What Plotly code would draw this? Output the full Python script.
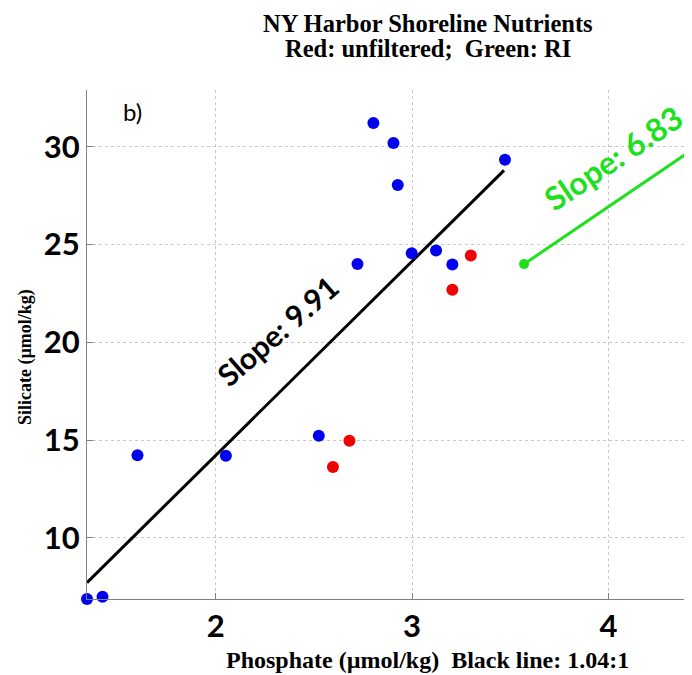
import plotly.graph_objects as go

# Data
blue_x = [1.345, 1.424, 1.602, 2.052, 2.525, 2.722, 2.803, 2.905, 2.927, 2.998, 3.122, 3.205, 3.473]
blue_y = [6.88, 7.00, 14.23, 14.20, 15.22, 24.01, 31.21, 30.19, 28.04, 24.56, 24.70, 23.98, 29.34]
red_x = [2.597, 2.681, 3.205, 3.299]
red_y = [13.63, 14.97, 22.69, 24.44]
fit_x = [1.345, 3.468]
fit_y = [7.72, 28.79]
ri_x = [3.57, 4.60]
ri_y = [24.00, 31.03]
x_ticks = [2, 3, 4]
y_ticks = [10, 15, 20, 25, 30]

BLUE = "#0000f0"
RED = "#f00000"
GREEN = "#1ee01e"
GRID = "#c8c8c8"
AXIS = "#808080"
SERIF = "Liberation Serif"
SANS = "Lato"

fig = go.Figure()
fig.add_trace(go.Scatter(x=fit_x, y=fit_y, mode="lines",
                         line=dict(color="black", width=3), hoverinfo="skip"))
fig.add_trace(go.Scatter(x=ri_x, y=ri_y, mode="lines",
                         line=dict(color=GREEN, width=3), hoverinfo="skip"))
fig.add_trace(go.Scatter(x=ri_x[:1], y=ri_y[:1], mode="markers",
                         marker=dict(color=GREEN, size=10), cliponaxis=False))
fig.add_trace(go.Scatter(x=blue_x, y=blue_y, mode="markers",
                         marker=dict(color=BLUE, size=12), cliponaxis=False))
fig.add_trace(go.Scatter(x=red_x, y=red_y, mode="markers",
                         marker=dict(color=RED, size=12), cliponaxis=False))

axis_common = dict(
    automargin=False,
    showline=True, linecolor=AXIS, linewidth=1.2,
    ticks="inside", ticklen=6, tickcolor=AXIS, tickwidth=1.2,
    showgrid=True, gridcolor=GRID, griddash="dot", gridwidth=1,
    zeroline=False,
    tickfont=dict(family=SANS, size=31, color="black", weight="bold"),
)

# The page body has an 8px default margin, so the figure is sized to fit the window.
fig.update_layout(
    template="none",
    width=684, height=667, autosize=False,
    margin=dict(l=79, r=0, t=82, b=76, pad=0),
    paper_bgcolor="white", plot_bgcolor="white",
    showlegend=False,
    xaxis=dict(range=[1.345, 4.425], tickvals=x_ticks, **axis_common),
    yaxis=dict(range=[6.88, 32.9], tickvals=y_ticks, **axis_common),
)

title_font = dict(family=SERIF, size=24.5, color="black", weight="bold")
fig.add_annotation(text="NY Harbor Shoreline Nutrients", xref="paper", yref="paper",
                   x=0.5636, y=1.1297, xanchor="center", yanchor="middle",
                   showarrow=False, font=title_font)
fig.add_annotation(text="Red: unfiltered;\u00a0 Green: RI", xref="paper", yref="paper",
                   x=0.5636, y=1.0825, xanchor="center", yanchor="middle",
                   showarrow=False, font=title_font)
fig.add_annotation(text="Phosphate (\u00b5mol/kg)\u00a0 Black line: 1.04:1", xref="paper", yref="paper",
                   x=0.5636, y=-0.1198, xanchor="center", yanchor="middle",
                   showarrow=False, font=dict(family=SERIF, size=24, color="black", weight="bold"))
fig.add_annotation(text="Silicate (\u00b5mol/kg)", xref="paper", yref="paper",
                   x=-0.1025, y=0.4754, xanchor="center", yanchor="middle", textangle=-90,
                   showarrow=False, font=dict(family=SERIF, size=18, color="black", weight="bold"))
fig.add_annotation(text="b)", xref="x", yref="y", x=1.577, y=31.79,
                   xanchor="center", yanchor="middle", showarrow=False,
                   font=dict(family=SANS, size=24, color="black"))
fig.add_annotation(text="Slope: 9.91", xref="x", yref="y", x=2.31, y=20.6,
                   xanchor="center", yanchor="middle", showarrow=False, textangle=-41,
                   font=dict(family=SANS, size=30, color="black", weight="bold"))
fig.add_annotation(text="Slope: 6.83", xref="x", yref="y", x=4.025, y=29.45,
                   xanchor="center", yanchor="middle", showarrow=False, textangle=-34,
                   font=dict(family=SANS, size=32, color=GREEN, weight="bold"))

fig.write_html("out.html", config={"displayModeBar": False})
